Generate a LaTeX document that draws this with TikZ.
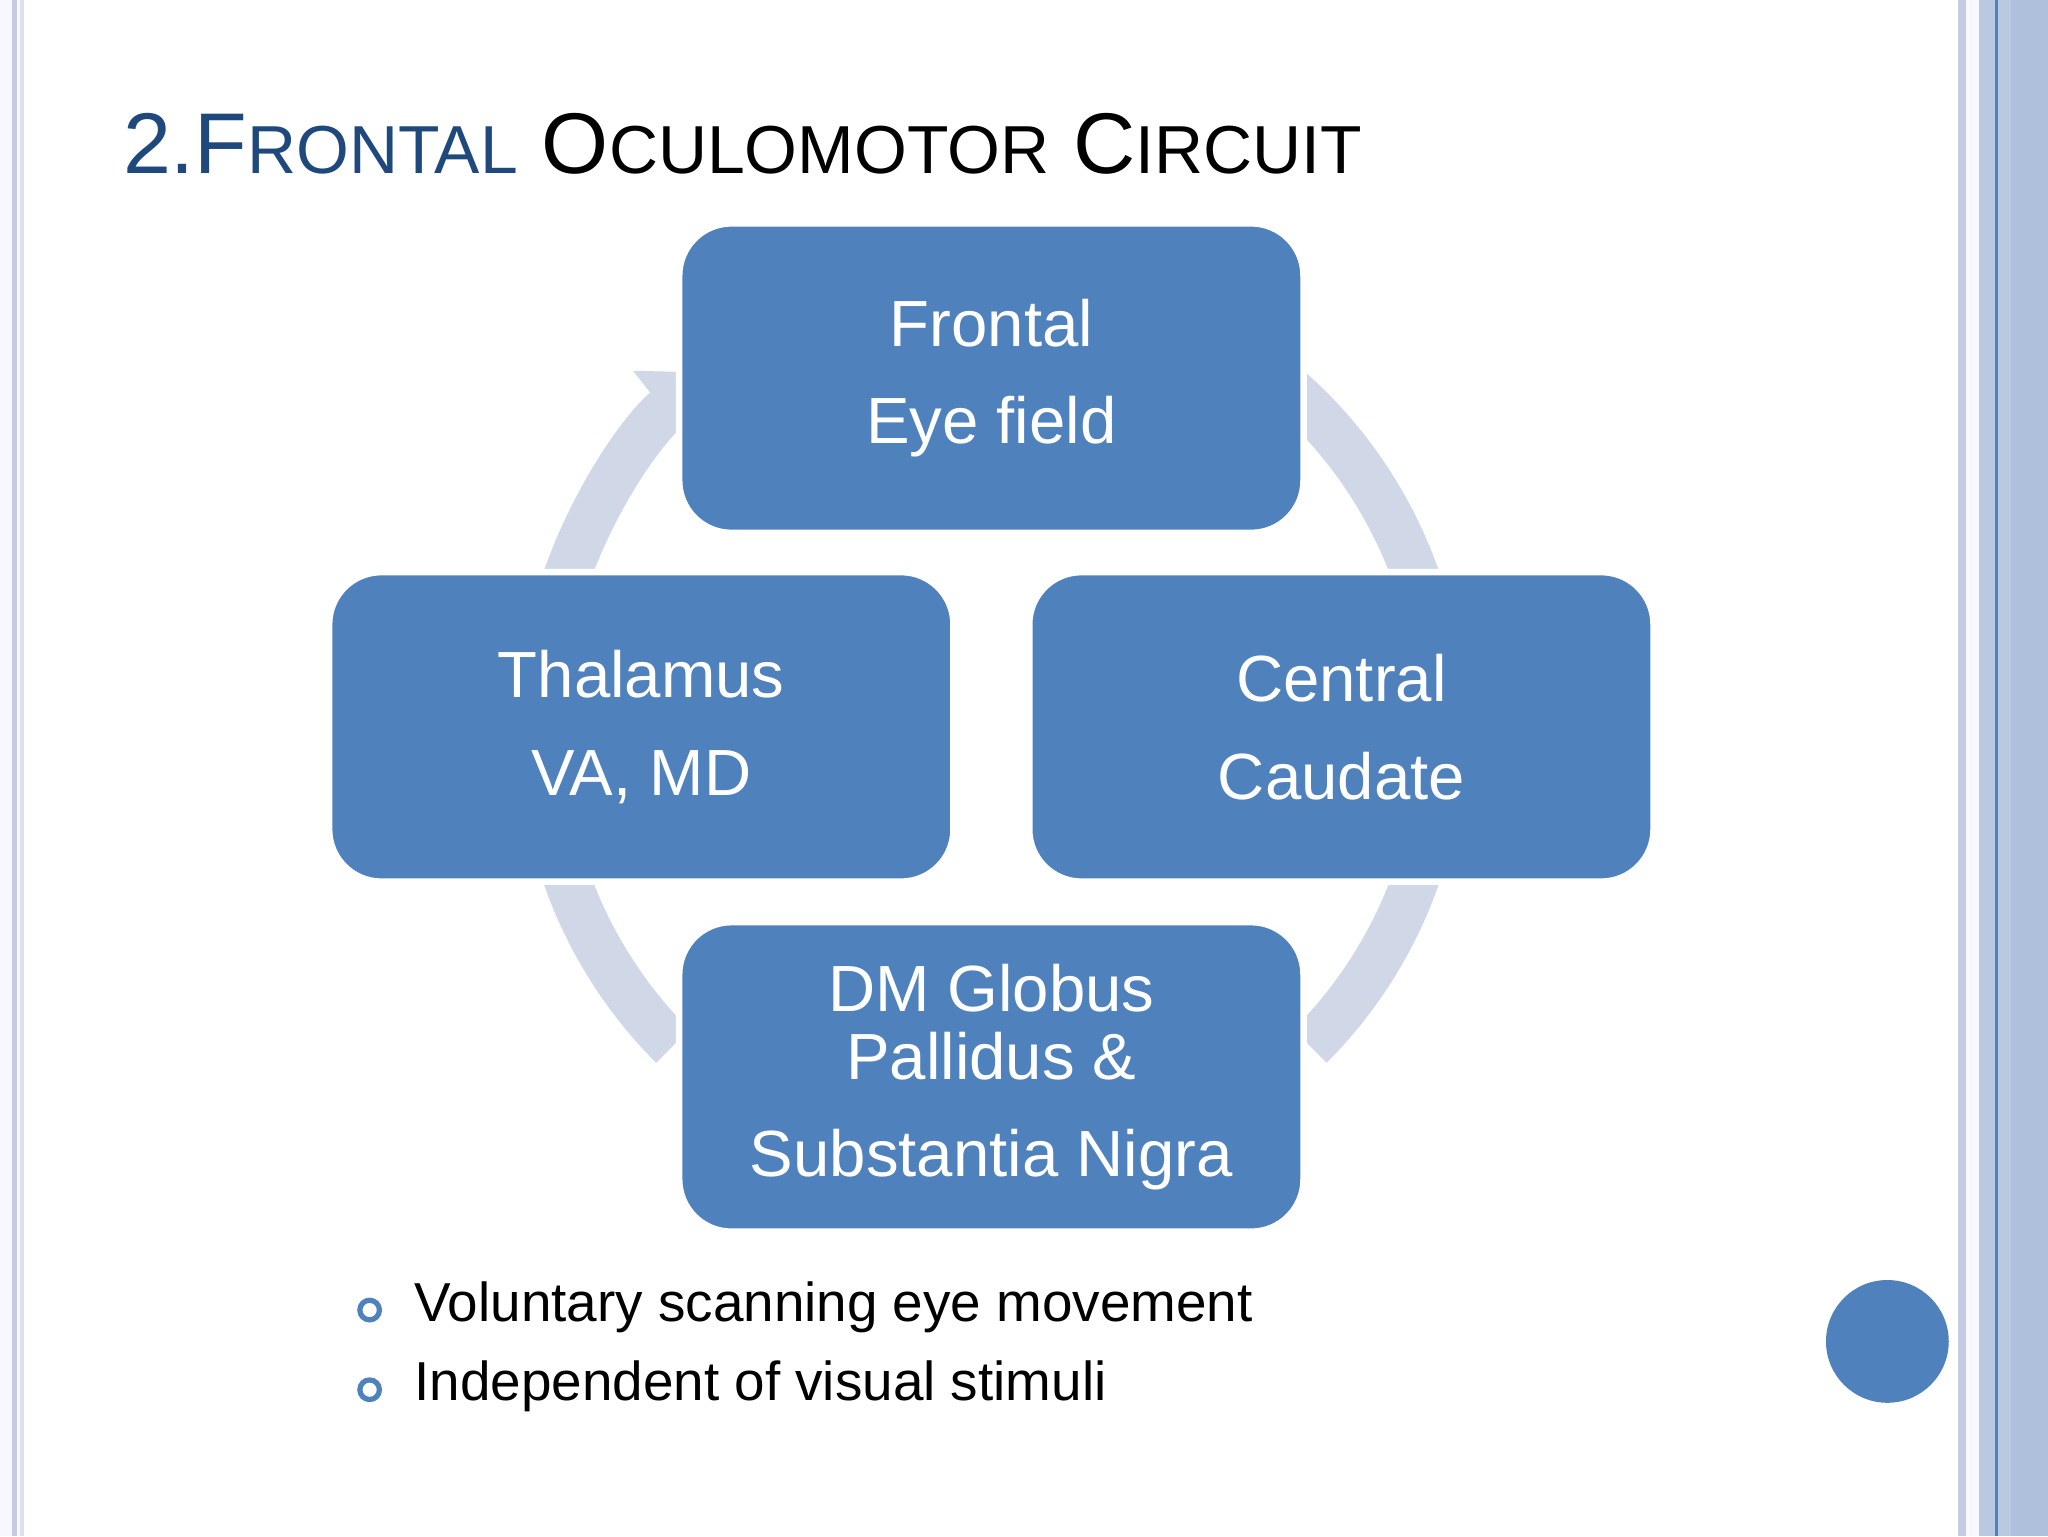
\documentclass[tikz,border=0pt]{standalone}
\usepackage{fontspec}
\setmainfont{Liberation Sans}
\usetikzlibrary{arrows.meta,calc}
\definecolor{boxblue}{HTML}{4F81BD}
\definecolor{ringc}{HTML}{D0D8E8}
\definecolor{titleblue}{HTML}{1F497D}
\definecolor{bandc}{HTML}{B9C9E1}
\definecolor{bandd}{HTML}{AFC0DC}
\definecolor{stripe}{HTML}{C4CBE3}
\begin{document}
\begin{tikzpicture}[x=1pt,y=-1pt,
  box/.style={draw=white,line width=5pt,fill=boxblue,rounded corners=40pt,minimum width=478pt,minimum height=237pt,text=white,align=center,font=\fontsize{50}{75}\selectfont,inner sep=0pt},
  ring/.style={ringc,line width=36pt},
  bul/.style={draw=boxblue,line width=4pt,circle,minimum size=15pt,inner sep=0pt},
  btxt/.style={anchor=west,font=\fontsize{42}{50}\selectfont,inner sep=0pt}]
\useasboundingbox (0,0) rectangle (1568,1176);
\fill[white!97!blue] (0,0) rectangle (1568,1176);
\fill[white] (18,0) rectangle (1499,1176);
% left border
\fill[stripe] (9,0) rectangle (13,1176);
\fill[stripe!60] (15,0) rectangle (18,1176);
% right border
\fill[stripe] (1499,0) rectangle (1505,1176);
\fill[bandc] (1515,0) rectangle (1568,1176);
\fill[bandd] (1540,0) rectangle (1568,1176);
\fill[boxblue] (1527.5,0) rectangle (1530,1176);
% title
\node[anchor=base west,inner sep=0pt,font=\fontsize{66}{70}\selectfont] (title) at (94,133)
 {\textcolor{titleblue}{2.F{\fontsize{52}{60}\selectfont RONTAL}} O{\fontsize{52}{60}\selectfont CULOMOTOR} C{\fontsize{52}{60}\selectfont IRCUIT}};
% ring (y axis points down, so angles are mirrored)
\coordinate (c) at (759,557);
\draw[ring] ($(c)+(-50:345)$) arc[start angle=-50,end angle=-18,radius=345];
\draw[ring] ($(c)+(18:345)$) arc[start angle=18,end angle=45,radius=345];
\draw[ring] ($(c)+(-198:345)$) arc[start angle=-198,end angle=-225,radius=345];
\draw[ring,-{Triangle[width=75pt,length=48pt]}] ($(c)+(-162:345)$) arc[start angle=-162,end angle=-128,radius=345];
% boxes
\node[box] (fef) at (759,289.5) {Frontal\\Eye field};
\node[box] (thal) at (491,556.5) {Thalamus\\VA, MD};
\node[box] (cc) at (1027,556.5) {Central\\Caudate};
\node[box,font=\fontsize{50}{52}\selectfont] (gp) at (759,824.5) {DM Globus\\Pallidus \&\\[22pt]Substantia Nigra};
% bullets
\node[bul] (b1) at (283,1003) {};
\node[bul] (b2) at (283,1064) {};
\node[btxt] (t1) at (317,1001) {Voluntary scanning eye movement};
\node[btxt] (t2) at (317,1061) {Independent of visual stimuli};
\node[circle,fill=boxblue,minimum size=94pt,inner sep=0pt] (dot) at (1445,1027) {};
\end{tikzpicture}
\end{document}
